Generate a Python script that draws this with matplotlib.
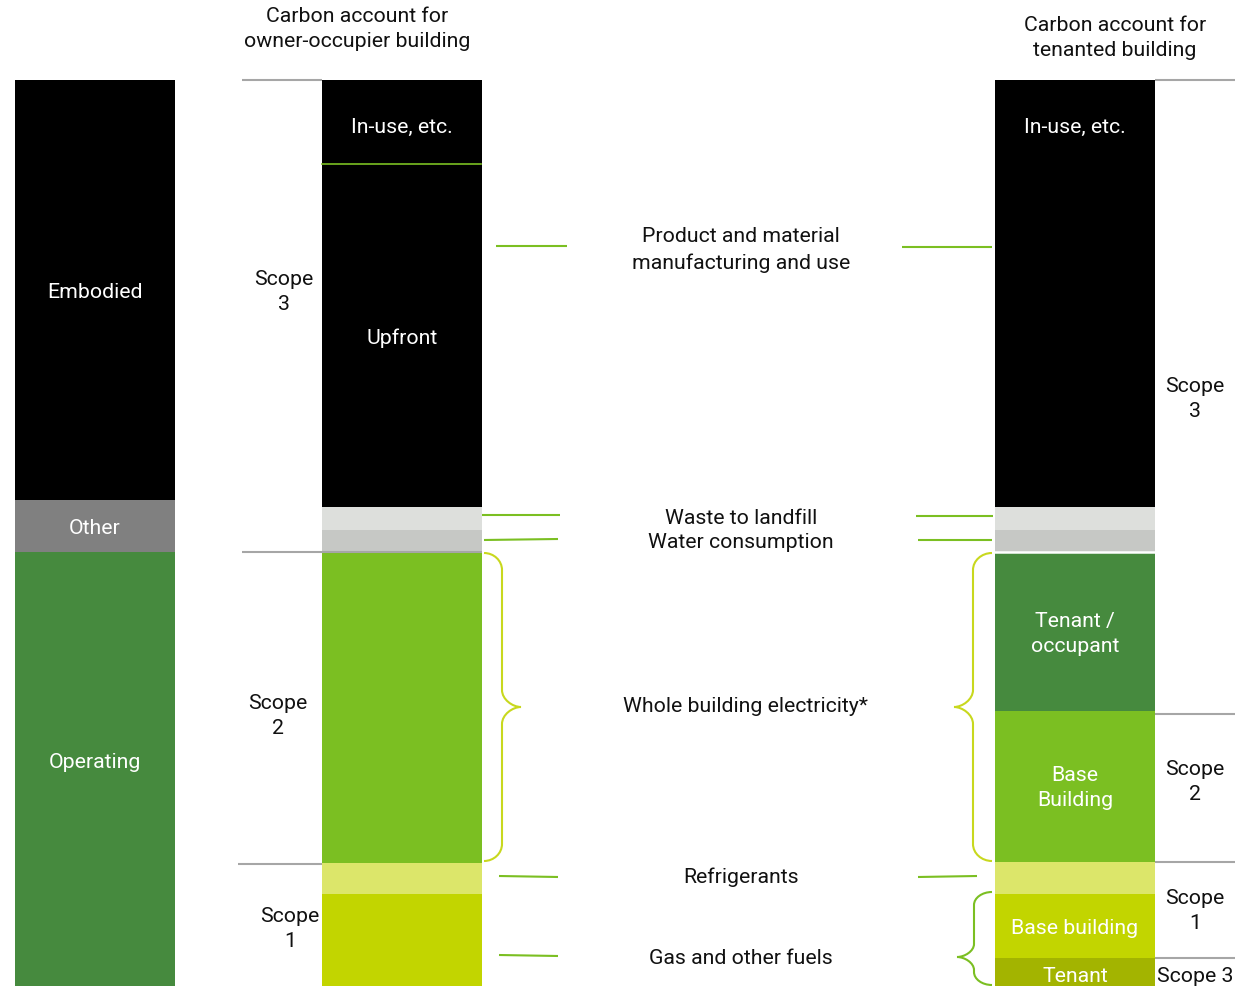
import matplotlib
matplotlib.use("Agg")
import matplotlib.pyplot as plt
import numpy as np
from matplotlib.path import Path
from matplotlib.patches import PathPatch

plt.rcParams['font.family'] = ['Roboto', 'DejaVu Sans']

# ---------------- data ----------------
left_names = ["Embodied", "Other", "Operating"]
left_vals = [420, 52, 434]
left_colors = ["#000000", "#808080", "#468a3e"]
left_labels = ["Embodied", "Other", "Operating"]

mid_names = ["In-use", "Upfront", "Waste", "Water", "Electricity", "Refrigerants", "Gas"]
mid_vals = [84, 343, 23, 22, 311, 31, 92]
mid_colors = ["#000000", "#000000", "#dddfdc", "#c6c8c5", "#7bbf22", "#dce66a", "#c2d500"]
mid_labels = ["In-use, etc.", "Upfront", "", "", "", "", ""]

right_names = ["In-use", "Upfront", "Waste", "Water", "Tenant elec", "Base elec",
               "Refrigerants", "Base fuel", "Tenant fuel"]
right_vals = [84, 343, 23, 22, 159, 151, 32, 64, 28]
right_colors = ["#000000", "#000000", "#dddfdc", "#c6c8c5", "#468a3e", "#7bbf22",
                "#dce66a", "#c2d500", "#a3b400"]
right_labels = ["In-use, etc.", "", "", "", "Tenant /\noccupant", "Base\nBuilding",
                "", "Base building", "Tenant"]

center_labels = ["Product and material\nmanufacturing and use", "Waste to landfill",
                 "Water consumption", "Whole building electricity*", "Refrigerants",
                 "Gas and other fuels"]

titles = ["Carbon account for\nowner-occupier building",
          "Carbon account for\ntenanted building"]

# ---------------- figure ----------------
W, H = 1258, 987
fig = plt.figure(figsize=(W / 100, H / 100), dpi=100)
ax = fig.add_axes([0, 0, 1, 1])
ax.set_xlim(0, W)
ax.set_ylim(H, 0)
ax.axis("off")

TOP = 81
FS = 15.3
LS = 1.42
DY = 1  # small downward nudge of text centres
GRAY = "#a6a6a6"
GREEN = "#7bbf22"
YG = "#c8d81e"


def stack(xc, vals, colors, labels, label_y=None):
    vals = np.array(vals, dtype=float)
    bottoms = TOP + np.concatenate([[0], np.cumsum(vals)[:-1]])
    ax.bar([xc] * len(vals), vals, bottom=bottoms, width=160, color=colors,
           linewidth=0, zorder=2)
    for i, (b, v, lab) in enumerate(zip(bottoms, vals, labels)):
        if lab:
            y = b + v / 2
            if label_y and i in label_y:
                y = label_y[i]
            ax.text(xc, y + DY, lab, color="white", fontsize=FS, ha="center",
                    va="center", zorder=4, linespacing=LS)
    return bottoms


lb = stack(95, left_vals, left_colors, left_labels, label_y={0: 291, 2: 762})
mb = stack(402, mid_vals, mid_colors, mid_labels, label_y={0: 126, 1: 337})
rb = stack(1075, right_vals, right_colors, right_labels,
           label_y={0: 126, 4: 633, 5: 787, 7: 927, 8: 975})

# separator lines inside bars
ax.plot([322, 481], [mb[1], mb[1]], color=GREEN, lw=1.2, zorder=3)
ax.plot([995, 1155], [rb[4], rb[4]], color="white", lw=1.8, zorder=3)

# scope lines
seg = dict(color=GRAY, lw=1.5, zorder=3, solid_capstyle="butt")
ax.plot([242, 322], [TOP, TOP], **seg)
ax.plot([242, 482], [mb[4], mb[4]], **seg)
ax.plot([238, 322], [mb[5] + 1, mb[5] + 1], **seg)
ax.plot([1155, 1235], [TOP, TOP], **seg)
ax.plot([1155, 1235], [rb[5] + 3, rb[5] + 3], **seg)
ax.plot([1155, 1235], [rb[6], rb[6]], **seg)
ax.plot([1155, 1235], [rb[8], rb[8]], **seg)

tk = dict(fontsize=FS, ha="center", va="center", linespacing=LS, color="#111111")

# titles
ax.text(357, 28 + DY, titles[0], **tk)
ax.text(1115, 37 + DY, titles[1], **tk)

# scope labels
ax.text(284, 291 + DY, "Scope\n3", **tk)
ax.text(278, 715 + DY, "Scope\n2", **tk)
ax.text(290, 928 + DY, "Scope\n1", **tk)
ax.text(1195, 398 + DY, "Scope\n3", **tk)
ax.text(1195, 781 + DY, "Scope\n2", **tk)
ax.text(1195, 910 + DY, "Scope\n1", **tk)
ax.text(1195, 975 + DY, "Scope 3", **tk)

# center labels
ax.text(741, 249 + DY, center_labels[0], **tk)
ax.text(741, 517 + DY, center_labels[1], **tk)
ax.text(741, 542 + DY, center_labels[2], **tk)
ax.text(745, 706 + DY, center_labels[3], **tk)
ax.text(741, 876 + DY, center_labels[4], **tk)
ax.text(741, 958 + DY, center_labels[5], **tk)

# connector lines
ln = dict(color=GREEN, lw=1.5, zorder=3, solid_capstyle="butt")
for (x0, x1, y0, y1) in [(496, 567, 247, 247), (482, 560, 516, 516),
                         (484, 558, 541, 540), (499, 558, 877, 878),
                         (499, 558, 956, 957),
                         (902, 992, 248, 248), (916, 993, 517, 517),
                         (918, 992, 541, 541), (918, 977, 878, 877)]:
    ax.plot([x0, x1], [y0, y1], **ln)


def brace(x_end, x_mid, x_tip, y_top, y_bot, y_tip, r, color):
    k = 0.55
    verts = [
        (x_end, y_top),
        (x_end + (x_mid - x_end) * k, y_top), (x_mid, y_top + r * (1 - k)), (x_mid, y_top + r),
        (x_mid, y_tip - r),
        (x_mid, y_tip - r * (1 - k)), (x_tip - (x_tip - x_mid) * (1 - k), y_tip), (x_tip, y_tip),
        (x_tip - (x_tip - x_mid) * (1 - k), y_tip), (x_mid, y_tip + r * (1 - k)), (x_mid, y_tip + r),
        (x_mid, y_bot - r),
        (x_mid, y_bot - r * (1 - k)), (x_end + (x_mid - x_end) * k, y_bot), (x_end, y_bot),
    ]
    codes = [Path.MOVETO,
             Path.CURVE4, Path.CURVE4, Path.CURVE4,
             Path.LINETO,
             Path.CURVE4, Path.CURVE4, Path.CURVE4,
             Path.CURVE4, Path.CURVE4, Path.CURVE4,
             Path.LINETO,
             Path.CURVE4, Path.CURVE4, Path.CURVE4]
    ax.add_patch(PathPatch(Path(verts, codes), fill=False, edgecolor=color,
                           lw=1.5, zorder=3))


brace(484, 502, 521, mb[4] + 1, mb[5] - 2, 708, 17, YG)
brace(992, 973, 954, rb[4] + 1, rb[6] - 1, 708, 17, YG)
brace(992, 974, 957, rb[7] - 2, H - 1, 958, 13, GREEN)

fig.savefig("out.png", dpi=100)
